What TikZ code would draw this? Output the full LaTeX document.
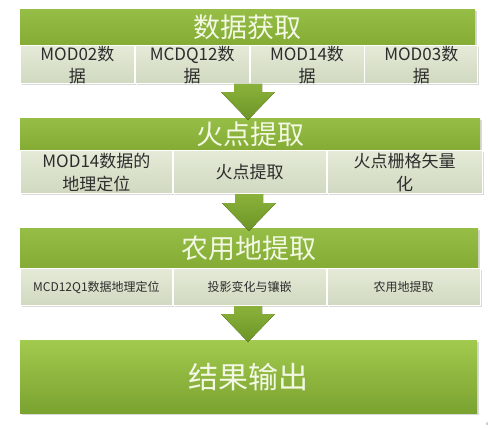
\documentclass[tikz,border=0pt]{standalone}
\usepackage{fontspec}
\setmainfont{Noto Sans CJK SC}
\usetikzlibrary{positioning, calc, shadows}
\definecolor{headtop}{RGB}{150,190,70}
\definecolor{headbot}{RGB}{132,172,52}
\definecolor{headtext}{RGB}{242,248,228}
\definecolor{celltop}{RGB}{228,234,215}
\definecolor{cellbot}{RGB}{208,217,192}
\definecolor{celltext}{RGB}{45,45,45}
\definecolor{arrowtop}{RGB}{138,178,58}
\definecolor{arrowbot}{RGB}{108,148,38}
\definecolor{outtop}{RGB}{162,202,78}
\definecolor{outbot}{RGB}{122,162,48}

\begin{document}
\begin{tikzpicture}[x=1pt, y=-1pt,
  head/.style={rectangle, anchor=north west, inner sep=0pt, top color=headtop,
               bottom color=headbot, text=headtext, font=\fontsize{27}{30}\selectfont,
               drop shadow={opacity=0.3, shadow xshift=1.5pt, shadow yshift=-1.5pt}},
  cell/.style={rectangle, anchor=north west, inner sep=0pt, top color=celltop,
               bottom color=cellbot, draw=white, line width=0.8pt, text=celltext,
               align=center, font=\fontsize{17}{22}\selectfont,
               drop shadow={opacity=0.3, shadow xshift=1.5pt, shadow yshift=-1.5pt}},
  smallcell/.style={cell, font=\fontsize{12}{14}\selectfont},
  outbox/.style={rectangle, anchor=north west, inner sep=0pt, top color=outtop,
                 bottom color=outbot, text=headtext, font=\fontsize{30}{34}\selectfont,
                 drop shadow={opacity=0.3, shadow xshift=1.5pt, shadow yshift=-1.5pt}},
  downarr/.style={top color=arrowtop, bottom color=arrowbot}
]
  \useasboundingbox (0,0) rectangle (490,428);

  % stage 1
  \node[head, minimum width=455pt, minimum height=36pt] (head1) at (20,9) {数据获取};
  \node[cell, minimum width=114pt, minimum height=36pt] (c11) at (head1.south west) {MOD02数\\据};
  \node[cell, minimum width=114pt, minimum height=36pt] (c12) at (c11.north east) {MCDQ12数\\据};
  \node[cell, minimum width=114pt, minimum height=36pt] (c13) at (c12.north east) {MOD14数\\据};
  \node[cell, minimum width=113pt, minimum height=36pt] (c14) at (c13.north east) {MOD03数\\据};

  % stage 2
  \node[head, minimum width=460pt, minimum height=32pt] (head2) at (20,118) {火点提取};
  \node[cell, minimum width=152pt, minimum height=43pt, font=\fontsize{17}{23}\selectfont] (c21) at (head2.south west) {MOD14数据的\\地理定位};
  \node[cell, minimum width=153pt, minimum height=43pt] (c22) at (c21.north east) {火点提取};
  \node[cell, minimum width=155pt, minimum height=43pt, font=\fontsize{17}{23}\selectfont] (c23) at (c22.north east) {火点栅格矢量\\化};

  % stage 3
  \node[head, minimum width=458pt, minimum height=40pt] (head3) at (20,228) {农用地提取};
  \node[smallcell, minimum width=152pt, minimum height=37pt] (c31) at (head3.south west) {MCD12Q1数据地理定位};
  \node[smallcell, minimum width=153pt, minimum height=37pt] (c32) at (c31.north east) {投影变化与镶嵌};
  \node[smallcell, minimum width=153pt, minimum height=37pt] (c33) at (c32.north east) {农用地提取};

  % output
  \node[outbox, minimum width=457pt, minimum height=73pt] (out) at (20,340) {结果输出};

  % block arrows
  \path (c11.south west) ++(228,0) coordinate (a1s);
  \path (head2.north west) ++(228,2) coordinate (a1e);
  \path (c21.south west) ++(229,0) coordinate (a2s);
  \path (head3.north west) ++(229,3) coordinate (a2e);
  \path (c31.south west) ++(228,0) coordinate (a3s);
  \path (out.north west) ++(228,2) coordinate (a3e);
  \foreach \s/\e in {a1s/a1e, a2s/a2e, a3s/a3e}
    \fill[downarr] ($(\s)+(-14,0)$) -- ($(\s)+(14,0)$) -- ($(\e)+(14,-28)$)
      -- ($(\e)+(27,-28)$) -- (\e) -- ($(\e)+(-27,-28)$) -- ($(\e)+(-14,-28)$) -- cycle;

  \node[font=\fontsize{4}{4}\selectfont, text=gray, inner sep=0pt] (pgno) at (487,424) {4};
\end{tikzpicture}
\end{document}
